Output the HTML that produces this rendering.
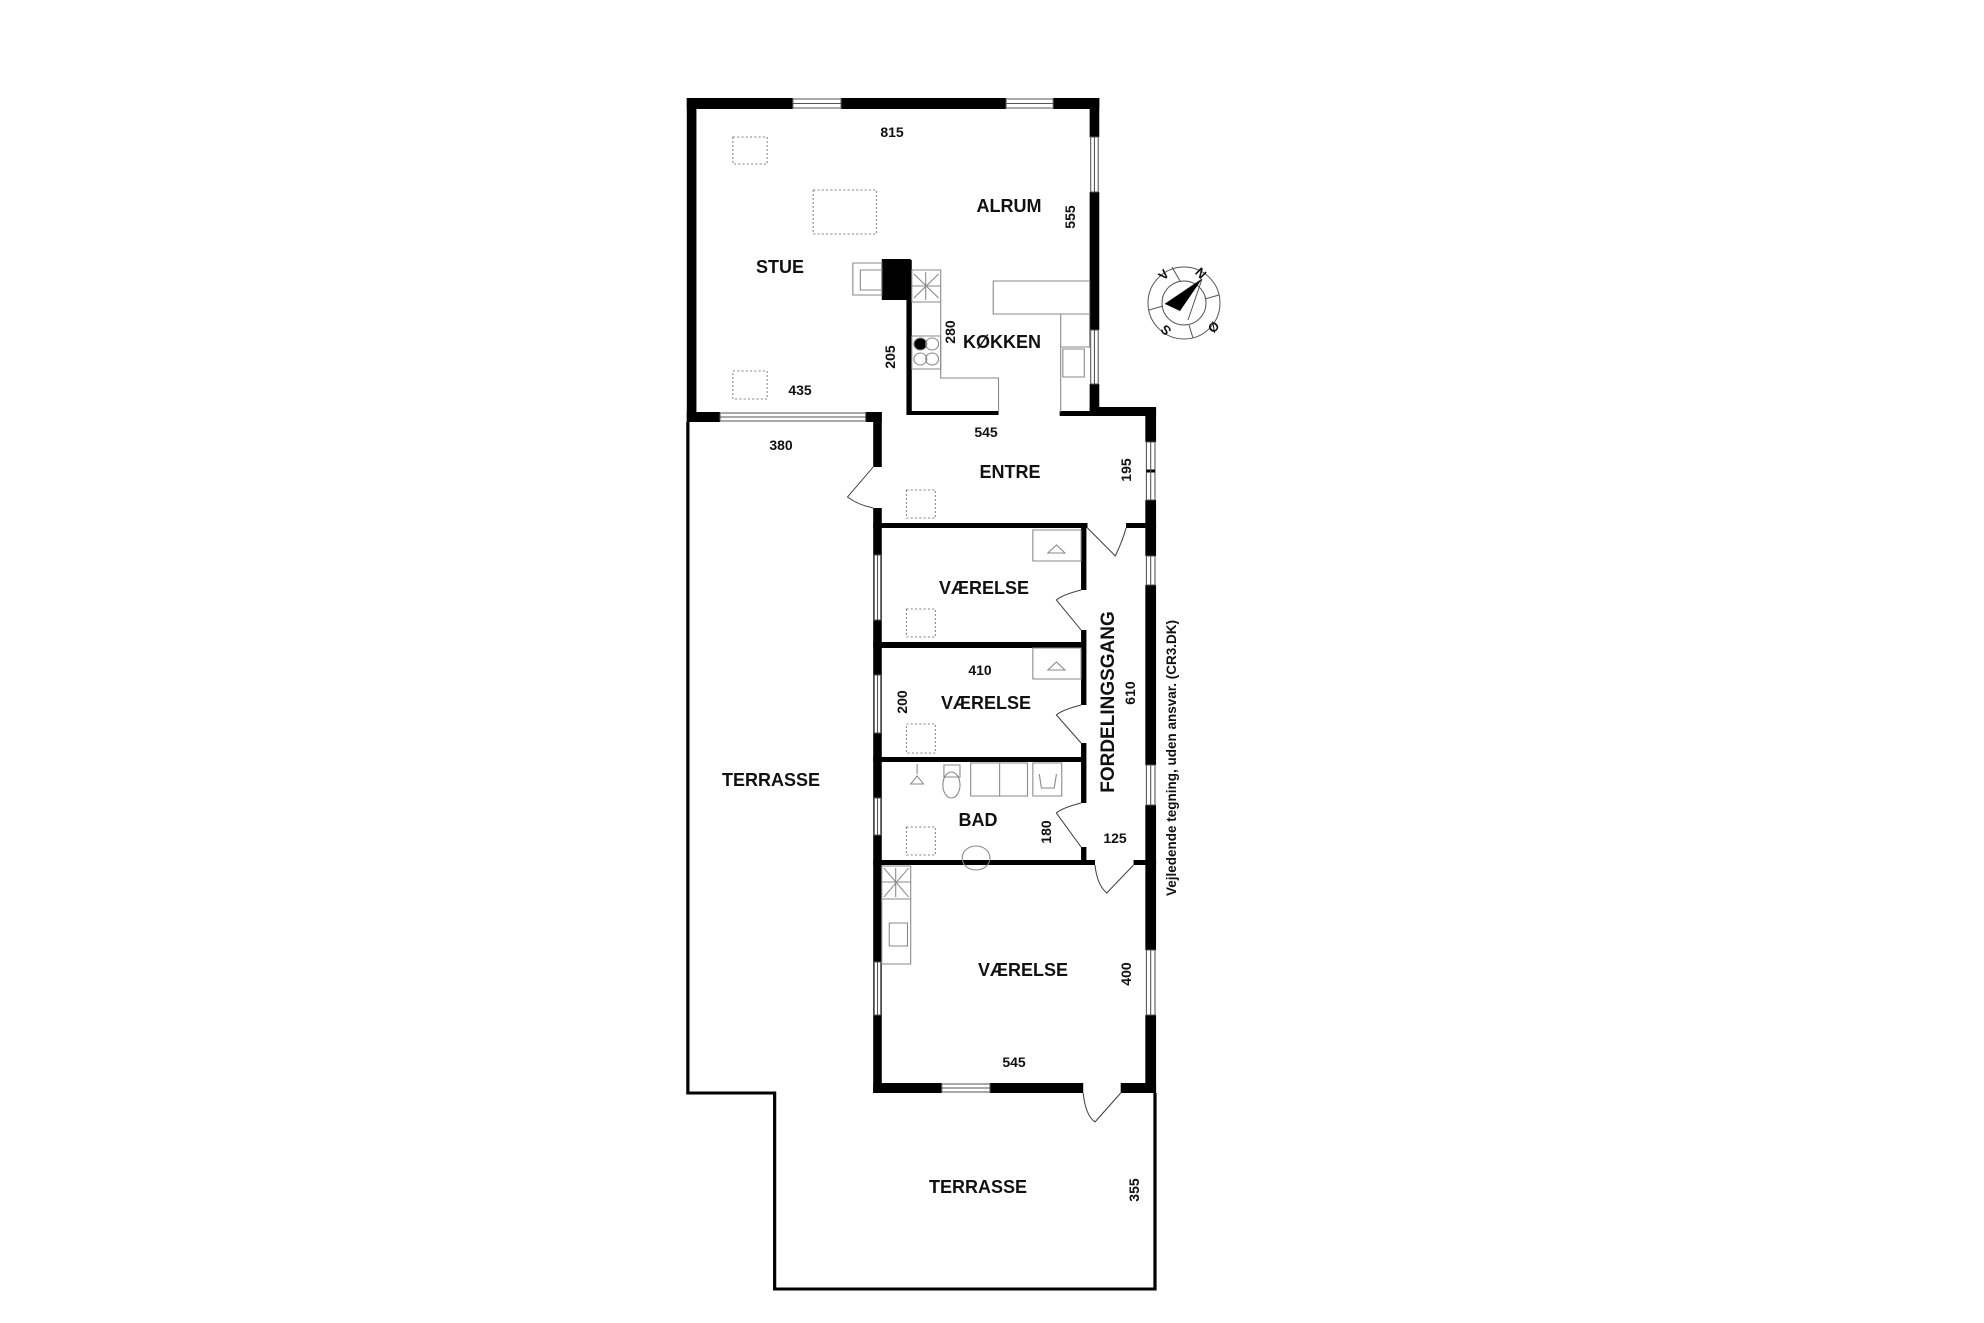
<!DOCTYPE html>
<html><head><meta charset="utf-8"><style>
html,body{margin:0;padding:0;background:#fff;}
svg{display:block}
text{font-family:"Liberation Sans",sans-serif;font-weight:bold;fill:#111}
.r{font-size:18px}
.n{font-size:14px}
</style></head><body>
<svg width="1984" height="1323" viewBox="0 0 1984 1323" xmlns="http://www.w3.org/2000/svg">
<rect width="1984" height="1323" fill="#fff"/>
<g transform="translate(660,0) scale(1.0714,1) translate(-660,0)">
<polyline points="686,422 686,1093 767,1093 767,1289 1122,1289 1122,1093" fill="none" stroke="#000" stroke-width="3"/>
<g fill="#000">
<rect x="685" y="98" width="99" height="11"/>
<rect x="829" y="98" width="154" height="11"/>
<rect x="1027" y="98" width="43" height="11"/>
<rect x="685" y="98" width="9" height="324"/>
<rect x="1061" y="98" width="9" height="39"/>
<rect x="1061" y="192" width="9" height="138"/>
<rect x="1061" y="384" width="9" height="31"/>
<rect x="1061" y="407" width="62" height="9"/>
<rect x="685" y="412" width="31" height="10"/>
<rect x="852" y="412" width="15" height="10"/>
<rect x="890" y="260" width="5" height="155"/>
<rect x="867" y="259" width="27" height="41"/>
<rect x="893" y="411" width="83" height="4"/>
<rect x="1033" y="411" width="40" height="5"/>
<rect x="859" y="412" width="8" height="55"/>
<rect x="859" y="508" width="8" height="353"/>
<rect x="859" y="523" width="200" height="5"/>
<rect x="1095" y="523" width="28" height="5"/>
<rect x="1113" y="407" width="10" height="35"/>
<rect x="1113" y="500" width="10" height="56"/>
<rect x="1113" y="585" width="10" height="180"/>
<rect x="1113" y="805" width="10" height="145"/>
<rect x="1113" y="1015" width="10" height="78"/>
<rect x="1053" y="523" width="5" height="67"/>
<rect x="1053" y="630" width="5" height="75"/>
<rect x="1053" y="743" width="5" height="60"/>
<rect x="1053" y="847" width="5" height="18"/>
<rect x="859" y="642" width="197" height="6"/>
<rect x="859" y="757" width="197" height="5"/>
<rect x="859" y="860" width="207" height="5"/>
<rect x="1102" y="860" width="21" height="5"/>
<rect x="859" y="861" width="8" height="232"/>
<rect x="859" y="1083" width="64" height="10"/>
<rect x="968" y="1083" width="87" height="10"/>
<rect x="1090" y="1083" width="33" height="10"/>
</g>
<g fill="#fff" stroke="#555" stroke-width="1">
<rect x="784" y="99" width="45" height="9"/>
<rect x="983" y="99" width="44" height="9"/>
<rect x="1062" y="137" width="7" height="55"/>
<rect x="1062" y="330" width="7" height="54"/>
<rect x="716" y="413" width="136" height="8"/>
<rect x="1114" y="442" width="8" height="58"/>
<rect x="1114" y="556" width="8" height="29"/>
<rect x="1114" y="765" width="8" height="40"/>
<rect x="1114" y="950" width="8" height="65"/>
<rect x="860" y="555" width="6" height="65"/>
<rect x="860" y="675" width="6" height="58"/>
<rect x="860" y="798" width="6" height="37"/>
<rect x="860" y="962" width="6" height="53"/>
<rect x="923" y="1084" width="45" height="8"/>
</g>
<g stroke="#555" stroke-width="1">
<line x1="1114" y1="471" x2="1122" y2="471" stroke="#000" stroke-width="3"/>
<line x1="784" y1="103.5" x2="829" y2="103.5"/><line x1="983" y1="103.5" x2="1027" y2="103.5"/>
<line x1="716" y1="417" x2="852" y2="417"/><line x1="923" y1="1088" x2="968" y2="1088"/>
<line x1="1118" y1="442" x2="1118" y2="500"/><line x1="1118" y1="556" x2="1118" y2="585"/>
<line x1="1118" y1="765" x2="1118" y2="805"/><line x1="1118" y1="950" x2="1118" y2="1015"/>
<line x1="863" y1="555" x2="863" y2="620"/><line x1="863" y1="675" x2="863" y2="733"/>
<line x1="863" y1="798" x2="863" y2="835"/><line x1="863" y1="962" x2="863" y2="1015"/>
<line x1="1065.5" y1="137" x2="1065.5" y2="192"/><line x1="1065.5" y1="330" x2="1065.5" y2="384"/>
</g>
<g fill="none" stroke="#444" stroke-width="1">
<path d="M859,467 L835,497 Q845,505 859,508"/>
<path d="M1059,528 L1085,556 Q1092,540 1095,528"/>
<path d="M1053,590 Q1035,595 1030,600 L1053,630"/>
<path d="M1053,705 Q1035,710 1030,715 L1053,743"/>
<path d="M1053,803 Q1035,808 1030,813 L1053,847"/>
<path d="M1066,865 Q1068,885 1077,893 L1102,865"/>
<path d="M1055,1093 Q1057,1115 1066,1122 L1090,1093"/>
</g>
<g fill="none" stroke="#888" stroke-width="1">
<rect x="728" y="137" width="32" height="27" stroke-dasharray="2,2"/>
<rect x="803" y="190" width="59" height="44" stroke-dasharray="2,2"/>
<rect x="728" y="371" width="32" height="28" stroke-dasharray="2,2"/>
<rect x="890" y="490" width="27" height="28" stroke-dasharray="2,2"/>
<rect x="890" y="609" width="27" height="28" stroke-dasharray="2,2"/>
<rect x="890" y="724" width="27" height="29" stroke-dasharray="2,2"/>
<rect x="890" y="827" width="27" height="28" stroke-dasharray="2,2"/>
<rect x="840" y="263" width="27" height="32"/>
<rect x="847" y="270" width="20" height="20"/>
<rect x="895" y="270" width="27" height="32"/>
<path d="M897,274 L920,298 M920,274 L897,298 M908,272 L908,300 M895,286 L922,286"/>
<rect x="895" y="336" width="27" height="33"/>
<circle cx="903" cy="344" r="6" fill="#000"/><circle cx="914" cy="344" r="6"/>
<circle cx="903" cy="359" r="6"/><circle cx="914" cy="359" r="6"/>
<path d="M922,302 L922,378 L976,378 L976,412"/>
<rect x="971" y="281" width="90" height="33"/>
<rect x="1034" y="314" width="27" height="33"/>
<rect x="1036" y="349" width="20" height="28"/>
<path d="M1034,347 L1034,412"/>
<rect x="1008" y="530" width="45" height="31"/>
<path d="M1022,553 L1030,545 L1038,553 Z"/>
<rect x="1008" y="648" width="45" height="31"/>
<path d="M1022,670 L1030,662 L1038,670 Z"/>
<path d="M900,764 L900,774 M894,784 L906,784 L900,776 Z"/>
<rect x="925" y="765" width="15" height="12"/><ellipse cx="932" cy="785" rx="8" ry="13"/>
<rect x="950" y="763" width="53" height="33"/><line x1="977" y1="763" x2="977" y2="796"/>
<rect x="1008" y="763" width="27" height="33"/>
<path d="M1014,774 L1016,788 L1028,788 L1030,774"/>
<ellipse cx="955" cy="858" rx="13" ry="12"/>
<rect x="867" y="866" width="27" height="33"/>
<path d="M869,868 L892,897 M892,868 L869,897 M880,868 L880,897 M867,882 L894,882"/>
<rect x="867" y="899" width="27" height="65"/>
<rect x="874" y="923" width="17" height="23"/>
</g>
</g>
<g fill="none" stroke="#555" stroke-width="1">
<circle cx="1184" cy="303" r="36"/><circle cx="1184" cy="303" r="22"/>
<path d="M1172,267 L1180,281 M1219,295 L1205,299 M1193,338 L1189,325 M1149,310 L1163,306"/>
<path d="M1202,279 L1188,320 M1165,304 L1202,279"/>
</g>
<path d="M1202,279 L1165,304 L1180,311 Z" fill="#000"/>
<text x="1196" y="277" transform="rotate(45 1200 273)" font-size="13">N</text>
<text x="1160" y="280" transform="rotate(-45 1163 276)" font-size="13">V</text>
<text x="1160" y="335" transform="rotate(-135 1165 330)" font-size="13">S</text>
<text x="1210" y="330" transform="rotate(135 1214 326)" font-size="13">Ø</text>
<g text-anchor="middle">
<text class="n" x="892" y="137">815</text>
<text class="r" x="1009" y="212">ALRUM</text>
<text class="n" x="1070" y="217" transform="rotate(-90 1070 217)" dy="5">555</text>
<text class="r" x="780" y="273">STUE</text>
<text class="n" x="950" y="332" transform="rotate(-90 950 332)" dy="5">280</text>
<text class="r" x="1002" y="348">KØKKEN</text>
<text class="n" x="890" y="357" transform="rotate(-90 890 357)" dy="5">205</text>
<text class="n" x="800" y="395">435</text>
<text class="n" x="986" y="437">545</text>
<text class="n" x="781" y="450">380</text>
<text class="r" x="1010" y="478">ENTRE</text>
<text class="n" x="1126" y="470" transform="rotate(-90 1126 470)" dy="5">195</text>
<text class="r" x="984" y="594">VÆRELSE</text>
<text x="1107" y="702" transform="rotate(-90 1107 702)" dy="7" font-size="19">FORDELINGSGANG</text>
<text class="n" x="1130" y="693" transform="rotate(-90 1130 693)" dy="5">610</text>
<text class="n" x="980" y="675">410</text>
<text class="n" x="902" y="702" transform="rotate(-90 902 702)" dy="5">200</text>
<text class="r" x="986" y="709">VÆRELSE</text>
<text class="r" x="771" y="786">TERRASSE</text>
<text class="r" x="978" y="826">BAD</text>
<text class="n" x="1046" y="832" transform="rotate(-90 1046 832)" dy="5">180</text>
<text class="n" x="1115" y="843">125</text>
<text class="r" x="1023" y="976">VÆRELSE</text>
<text class="n" x="1126" y="974" transform="rotate(-90 1126 974)" dy="5">400</text>
<text class="n" x="1014" y="1067">545</text>
<text class="r" x="978" y="1193">TERRASSE</text>
<text class="n" x="1134" y="1190" transform="rotate(-90 1134 1190)" dy="5">355</text>
<text x="1171" y="758" transform="rotate(-90 1171 758)" dy="5" font-size="13.5">Vejledende tegning, uden ansvar. (CR3.DK)</text>
</g>
</svg>
</body></html>
